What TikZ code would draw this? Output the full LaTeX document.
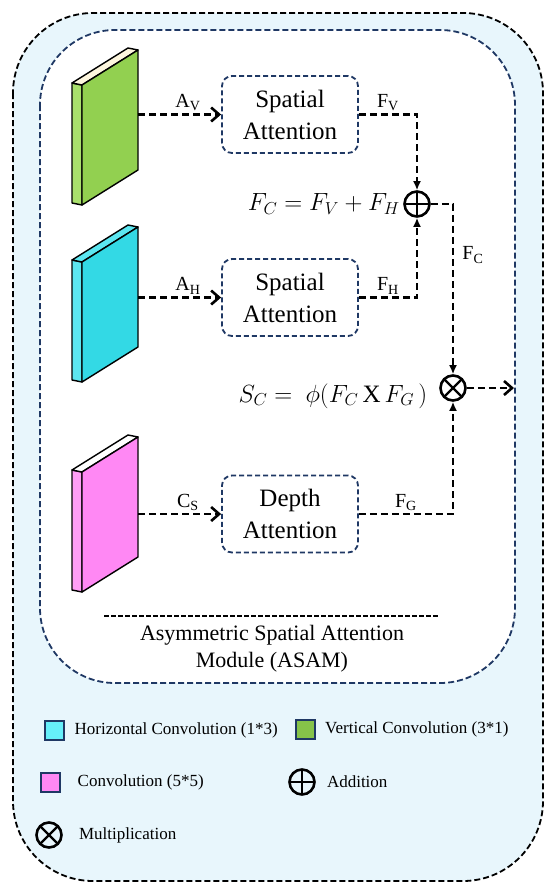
\documentclass[tikz,border=0pt]{standalone}
\usepackage{fontspec}
\setmainfont{Liberation Serif}
\usetikzlibrary{arrows.meta, positioning, calc}
\usepackage{xcolor}

\definecolor{navy}{HTML}{1F3864}
\definecolor{paleblue}{HTML}{E8F6FC}
\definecolor{vgreen}{HTML}{92D050}
\definecolor{vgreenside}{HTML}{A9E06C}
\definecolor{vgreentop}{HTML}{FDF6DE}
\definecolor{hcyan}{HTML}{33D9E5}
\definecolor{hcyanside}{HTML}{5CE6F0}
\definecolor{keycyan}{HTML}{66F0FA}
\definecolor{keygreen}{HTML}{86C349}
\definecolor{cpink}{HTML}{FF88F4}
\definecolor{cpinkside}{HTML}{FF9EF6}

% feature map slab: name, top y of the front face, front, side, top colour
\newcommand{\featmap}[5]{%
  \filldraw[fill=#4, line width=1.4pt, line join=round] (82,#2+35) -- (82,#2+155) -- (72,#2+153) -- (72,#2+33) -- cycle;
  \filldraw[fill=#5, line width=1.4pt, line join=round] (72,#2+33) -- (82,#2+35) -- (138,#2) -- (128,#2-2) -- cycle;
  \filldraw[fill=#3, line width=1.4pt, line join=round] (82,#2+35) -- (138,#2) -- (138,#2+120) -- (82,#2+155) -- cycle;
  \coordinate (#1) at (138,#2+60);
}

\begin{document}
\begin{tikzpicture}[x=1pt, y=-1pt,
  attn/.style={rectangle, draw=navy, line width=1.8pt, dash pattern=on 5pt off 3pt, rounded corners=10pt,
    minimum width=136pt, minimum height=77pt, align=center, font=\fontsize{25}{32}\selectfont},
  flow/.style={line width=2.8pt, dash pattern=on 7pt off 4pt},
  into/.style={flow, -{Straight Barb[length=8pt, width=14pt, line width=2.6pt]}},
  merge/.style={flow, -{Latex[length=9pt, width=8pt]}},
  lbl/.style={font=\fontsize{20}{22}\selectfont, inner sep=2pt},
  addop/.style={circle, draw, line width=2.6pt, minimum size=25pt, inner sep=0pt,
    path picture={\draw[line width=2.4pt] (path picture bounding box.north) -- (path picture bounding box.south)
      (path picture bounding box.west) -- (path picture bounding box.east);}},
  mulop/.style={circle, draw, line width=2.6pt, minimum size=25pt, inner sep=0pt,
    path picture={\draw[line width=2.4pt] (path picture bounding box.north west) -- (path picture bounding box.south east)
      (path picture bounding box.south west) -- (path picture bounding box.north east);}},
  key/.style={rectangle, draw=navy, line width=2pt, minimum size=19pt, inner sep=0pt},
  keytext/.style={font=\fontsize{17}{20}\selectfont, inner sep=0pt, anchor=west},
  formula/.style={font=\fontsize{25}{30}\selectfont}
]
\useasboundingbox (0,0) rectangle (550,892);

% Frames
\draw[fill=paleblue, line width=1.8pt, dash pattern=on 6pt off 3pt, rounded corners=80pt] (13,13) rectangle (543,881);
\draw[fill=white, draw=navy, line width=1.8pt, dash pattern=on 6pt off 3pt, rounded corners=75pt] (40,30) rectangle (515,683);

% Feature maps
\featmap{vmap}{50}{vgreen}{vgreenside}{vgreentop}
\featmap{hmap}{227}{hcyan}{hcyanside}{hcyanside}
\featmap{cmap}{437}{cpink}{cpinkside}{white}

% Attention blocks
\node[attn] (sa1) at (290,114.5) {Spatial\\Attention};
\node[attn] (sa2) at (290,297.5) {Spatial\\Attention};
\node[attn] (da) at (290,514) {Depth\\Attention};

% Operators
\node[addop] (add) at (417,204) {};
\node[mulop] (mul) at (453,388) {};
\coordinate (out) at (514,388);

% Formulas
\node[formula, left=0pt of add] (fsum) {$F_C = F_V + F_H$};
\node[formula] (fprod) at (333,396) {$S_C =\ \phi(F_C\,\mathrm{X}\,F_G\,)$};

% Inputs
\draw[into] (vmap |- sa1) -- node[lbl, above, pos=0.6]{A\textsubscript{V}} (sa1);
\draw[into] (hmap |- sa2) -- node[lbl, above, pos=0.6]{A\textsubscript{H}} (sa2);
\draw[into] (cmap |- da) -- node[lbl, above, pos=0.6]{C\textsubscript{S}} (da);

% Fusion
\draw[merge] (sa1.east) -| node[lbl, above, pos=0.25]{F\textsubscript{V}} (add.north);
\draw[merge] (sa2.east) -| node[lbl, above, pos=0.25]{F\textsubscript{H}} (add.south);
\draw[merge] (add.east) -| node[lbl, right=6pt, pos=0.65]{F\textsubscript{C}} (mul.north);
\draw[merge] (da.east) -| node[lbl, above, pos=0.25]{F\textsubscript{G}} (mul.south);
\draw[into] (mul.east) -- (out);

% Caption
\draw[line width=2.4pt, dash pattern=on 5pt off 2pt] (104,616) -- (439,616);
\node[font=\fontsize{22}{27}\selectfont, align=center] (caption) at (272,649) {Asymmetric Spatial Attention\\Module (ASAM)};

% Legend
\node[key, fill=keycyan] (kh) at (54,730) {};
\node[keytext, right=10pt of kh] (kht) {Horizontal Convolution (1*3)};
\node[key, fill=keygreen] (kv) at (305.5,729) {};
\node[keytext, right=9pt of kv] (kvt) {Vertical Convolution (3*1)};
\node[key, fill=cpink] (kc) at (50,782.5) {};
\node[keytext, right=17pt of kc] (kct) {Convolution (5*5)};
\node[addop] (ka) at (302,782) {};
\node[keytext, right=11pt of ka] (kat) {Addition};
\node[mulop] (km) at (49,835) {};
\node[keytext, right=16pt of km] (kmt) {Multiplication};

\end{tikzpicture}
\end{document}
